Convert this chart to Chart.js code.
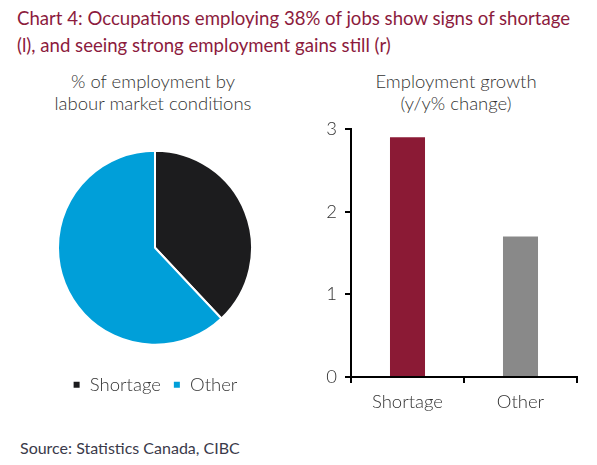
<!DOCTYPE html>
<html>
<head>
<meta charset="utf-8">
<script src="https://cdn.jsdelivr.net/npm/chart.js@4.4.1/dist/chart.umd.min.js"></script>
<style>
  body { margin: 0; background: #fff; width: 597px; height: 465px; position: relative; overflow: hidden; font-family: Lato, "Open Sans", sans-serif; }
  .title { position: absolute; left: 17px; top: 5px; width: 580px; color: #8c1b3d; font-size: 18.6px; line-height: 27px; }
  .sub { position: absolute; top: 70px; width: 280px; text-align: center; color: #333; font-size: 18.5px; line-height: 22px; font-weight: 300; }
  .source { position: absolute; left: 20px; top: 438px; color: #3a3a4a; font-size: 16px; }
  .box { position: absolute; }
</style>
</head>
<body>
<div class="title">Chart 4: Occupations employing 38% of jobs show signs of shortage<br>(l), and seeing strong employment gains still (r)</div>
<div class="sub" style="left:13px">% of employment by<br>labour market conditions</div>
<div class="sub" style="left:316px">Employment growth<br>(y/y% change)</div>
<div class="box" style="left:57px; top:132px; width:196px; height:272px"><canvas id="pie"></canvas></div>
<div class="box" style="left:300px; top:110px; width:297px; height:320px"><canvas id="bar"></canvas></div>
<div class="source">Source: Statistics Canada, CIBC</div>
<script>
// Data
const pieLabels = ["Shortage", "Other"]
const pieShares = [38, 62]
const barLabels = ["Shortage", "Other"]
const barValues = [2.9, 1.7]
const yTicks = [0, 1, 2, 3]

const textColor = "#333"
const axisColor = "#000"
const fontFamily = "Lato, 'Open Sans', sans-serif"
const tickFont = { family: fontFamily, size: 18.5, weight: 300 }

// Pie: share of employment
new Chart(document.getElementById("pie"), {
  type: "pie",
  data: {
    labels: pieLabels,
    datasets: [{
      data: pieShares,
      backgroundColor: ["#1c1c1e", "#009fd9"],
      borderColor: "#fff",
      borderWidth: 2,
    }],
  },
  options: {
    responsive: true,
    maintainAspectRatio: false,
    animation: false,
    layout: { padding: 0 },
    plugins: {
      tooltip: { enabled: false },
      legend: {
        position: "bottom",
        labels: {
          color: textColor,
          font: tickFont,
          boxWidth: 8,
          boxHeight: 8,
          padding: 12,
        },
      },
    },
  },
})

// Bar: employment growth
new Chart(document.getElementById("bar"), {
  type: "bar",
  data: {
    labels: barLabels,
    datasets: [{
      data: barValues,
      backgroundColor: ["#8b1a35", "#898989"],
      categoryPercentage: 1,
      barPercentage: 0.31,
    }],
  },
  options: {
    responsive: true,
    maintainAspectRatio: false,
    animation: false,
    layout: { padding: { top: 8, right: 20, bottom: 12 } },
    plugins: { legend: { display: false }, tooltip: { enabled: false } },
    scales: {
      x: {
        afterFit: (s) => { s.height = 41 },
        border: { color: axisColor, width: 2 },
        grid: { drawOnChartArea: false, color: axisColor, tickLength: 6, lineWidth: 2 },
        ticks: { color: textColor, font: tickFont, padding: 8 },
      },
      y: {
        min: 0,
        max: 3,
        afterFit: (s) => { s.width = 51 },
        afterBuildTicks: (s) => { s.ticks = yTicks.map((v) => ({ value: v })) },
        border: { color: axisColor, width: 2 },
        grid: { drawOnChartArea: false, color: axisColor, tickLength: 6, lineWidth: 2 },
        ticks: { color: textColor, font: tickFont, padding: 8 },
      },
    },
  },
})
</script>
</body>
</html>
